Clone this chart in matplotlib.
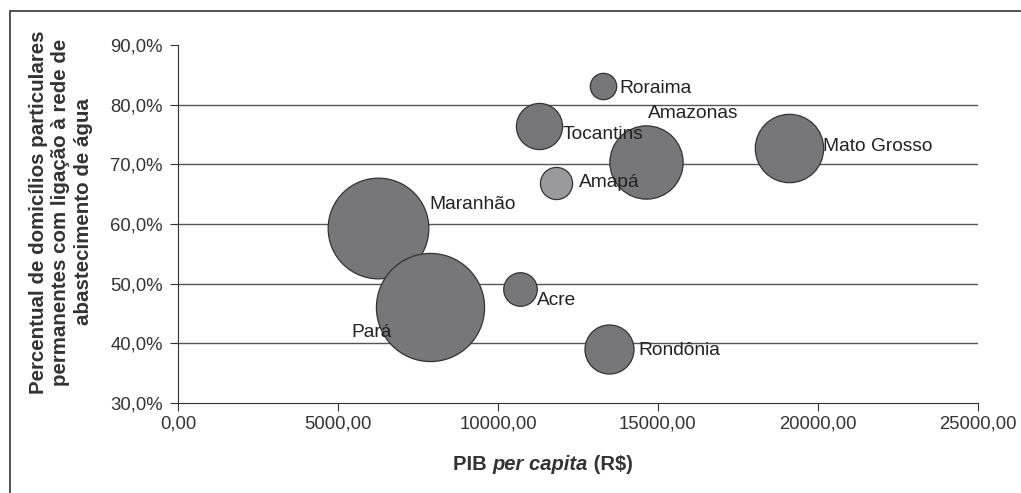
import matplotlib
matplotlib.use('Agg')
import matplotlib.pyplot as plt
from matplotlib.patches import Rectangle
from matplotlib.ticker import FuncFormatter, MultipleLocator

plt.rcParams['font.family'] = ['Liberation Sans', 'DejaVu Sans']

# dados por estado
estados = ['Maranhão', 'Pará', 'Amazonas', 'Mato Grosso', 'Rondônia',
           'Tocantins', 'Acre', 'Amapá', 'Roraima']
pib = [6250, 7875, 14625, 19094, 13469, 11281, 10687, 11812, 13281]
agua = [59.3, 46.1, 70.4, 72.7, 39.0, 76.4, 49.1, 66.9, 83.1]
populacao = [6.57, 7.58, 3.48, 3.03, 1.56, 1.38, 0.73, 0.67, 0.45]  # milhões
cores = ['#77777a'] * 7 + ['#9a9a9c', '#77777a']

# posição dos rótulos (deslocamento em pixels)
rot_dx = [51, -38, 2, 34, 29, 24, 17, 23, 16]
rot_dy = [24, -26, 48, 2, -1, -8, -11, 0, -2]
rot_ha = ['left', 'right', 'left', 'left', 'left', 'left', 'left', 'left', 'left']

fig = plt.figure(figsize=(10.21, 4.93), dpi=100)
ax = fig.add_axes([0.1743, 0.1826, 0.7835, 0.7261])

tam = [p * 800 for p in populacao]
for i in range(len(estados)):
    ax.scatter(pib[i], agua[i], s=tam[i], color=cores[i], edgecolors='#333333',
               linewidths=0.9, zorder=3 + i * 0.01)
    ax.annotate(estados[i], (pib[i], agua[i]), xytext=(rot_dx[i], rot_dy[i]),
                textcoords='offset pixels', ha=rot_ha[i], va='center',
                fontsize=13.8, color='#222222', zorder=10)

ax.set_xlim(0, 25000)
ax.set_ylim(30, 90)
ax.xaxis.set_major_locator(MultipleLocator(5000))
ax.yaxis.set_major_locator(MultipleLocator(10))
ax.xaxis.set_major_formatter(FuncFormatter(lambda v, p: f'{v:.2f}'.replace('.', ',')))
ax.yaxis.set_major_formatter(FuncFormatter(lambda v, p: f'{v:.1f}%'.replace('.', ',')))

for g in [40, 50, 60, 70, 80]:
    ax.axhline(g, color='#555555', linewidth=1, zorder=1)

for s in ['top', 'right']:
    ax.spines[s].set_visible(False)
for s in ['left', 'bottom']:
    ax.spines[s].set_color('#333333')
ax.tick_params(direction='out', length=6, color='#333333', labelsize=13.3,
               labelcolor='#333333')
ax.tick_params(axis='x', pad=3)
ax.tick_params(axis='y', pad=5)

fig.text(61 / 1021, 1 - 212 / 493,
         'Percentual de domicílios particulares\npermanentes com ligação à rede de\nabastecimento de água',
         rotation=90, ha='center', va='center', multialignment='center',
         fontsize=14.8, fontweight='bold', color='#333333', linespacing=1.22)

# rótulo do eixo x com "per capita" em itálico
fig.canvas.draw()
r = fig.canvas.get_renderer()
partes = [('PIB ', 'normal'), ('per capita', 'italic'), (' (R$)', 'normal')]
objs = []
larg = 0
for txt, st in partes:
    t = fig.text(0, 1 - 464 / 493, txt, fontsize=14.5, fontweight='bold', style=st,
                 color='#333333', va='center')
    objs.append(t)
    larg += t.get_window_extent(r).width
x0 = 543 - larg / 2
for t in objs:
    t.set_x(x0 / fig.bbox.width)
    x0 += t.get_window_extent(r).width

# moldura externa
fig.patches.append(Rectangle((0.0098, -0.1), 1.5, 1.078, transform=fig.transFigure,
                             fill=False, edgecolor='#333333', linewidth=1.2))

fig.savefig('out.png', dpi=100)
